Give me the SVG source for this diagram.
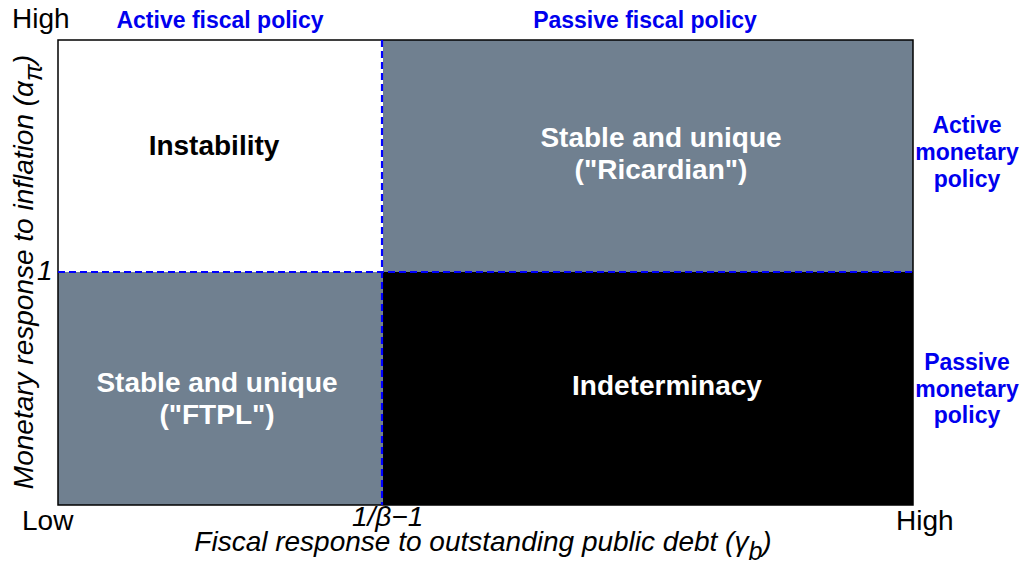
<svg xmlns="http://www.w3.org/2000/svg" width="1021" height="565" viewBox="0 0 1021 565">
<style>
text{font-family:"Liberation Sans",Arial,sans-serif}
.ax{font-size:28px;fill:#000}
.it{font-style:italic}
.blue{fill:#0000ee;font-weight:bold;font-size:23px;text-anchor:middle}
.lab{font-weight:bold;font-size:28px;text-anchor:middle}
.w{fill:#fff}
.dash{stroke:#0000ff;stroke-width:2.2;stroke-dasharray:7,4;fill:none}
</style>
<rect width="1021" height="565" fill="#fff"/>
<g id="q-instability">
<rect x="58" y="40" width="325" height="232" fill="#fff"/>
<text class="lab" x="214" y="155">Instability</text>
</g>
<g id="q-ricardian">
<rect x="383" y="40" width="530" height="232" fill="#708090"/>
<text class="lab w" x="661" y="147">Stable and unique</text>
<text class="lab w" x="661" y="179">("Ricardian")</text>
</g>
<g id="q-ftpl">
<rect x="58" y="272" width="325" height="233" fill="#708090"/>
<text class="lab w" x="217" y="392">Stable and unique</text>
<text class="lab w" x="217" y="424">("FTPL")</text>
</g>
<g id="q-indeterminacy">
<rect x="383" y="272" width="530" height="233" fill="#000"/>
<text class="lab w" x="667" y="395">Indeterminacy</text>
</g>
<rect x="58" y="40" width="855" height="465" fill="none" stroke="#000" stroke-width="1.5"/>
<g id="connectors">
<line class="dash" x1="382" y1="40" x2="382" y2="505"/>
<line class="dash" x1="58" y1="272" x2="913" y2="272"/>
</g>
<g id="labels">
<text class="ax" x="12" y="28" font-size="27">High</text>
<text class="blue" x="220" y="28">Active fiscal policy</text>
<text class="blue" x="645" y="28">Passive fiscal policy</text>
<text class="blue" x="967" y="133">Active</text>
<text class="blue" x="967" y="160">monetary</text>
<text class="blue" x="967" y="187">policy</text>
<text class="blue" x="967" y="370">Passive</text>
<text class="blue" x="967" y="397">monetary</text>
<text class="blue" x="967" y="423">policy</text>
<text class="ax it" x="37" y="280" font-size="23">1</text>
<text class="ax" x="22" y="530">Low</text>
<text class="ax it" x="352" y="526" font-size="24">1/β−1</text>
<text class="ax" x="896" y="530">High</text>
<text class="ax it" x="483" y="551" text-anchor="middle">Fiscal response to outstanding public debt (γ<tspan dy="9" font-size="25">b</tspan><tspan dy="-9">)</tspan></text>
<text class="ax it" transform="translate(33,272) rotate(-90)" text-anchor="middle">Monetary response to inflation (α<tspan dy="9" font-size="25">π</tspan><tspan dy="-9">)</tspan></text>
</g>
</svg>
